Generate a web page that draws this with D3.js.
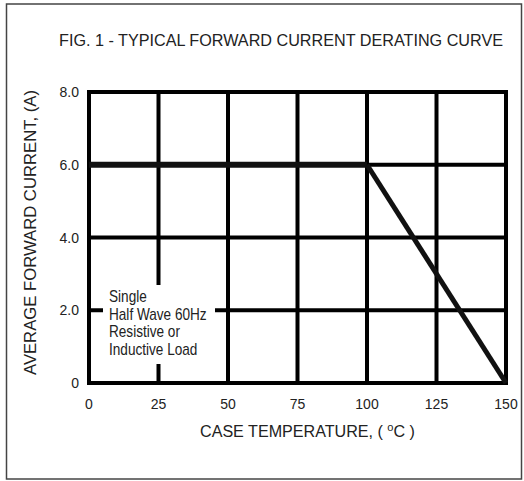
<!DOCTYPE html>
<html>
<head>
<meta charset="utf-8">
<script src="https://cdn.jsdelivr.net/npm/d3@7"></script>
<style>
  html, body { margin: 0; padding: 0; background: #fff; }
  svg { display: block; }
  text { font-family: "Liberation Sans", Arial, sans-serif; fill: #222; }
</style>
</head>
<body>
<div id="chart"></div>
<script>
// data
const xTicks = [0, 25, 50, 75, 100, 125, 150];
const yTicks = [0, 2, 4, 6, 8];
const yTickLabels = ['0', '2.0', '4.0', '6.0', '8.0'];
const curveTemp = [0, 100, 150];
const curveCurrent = [6, 6, 0];
const noteLines = ['Single', 'Half Wave 60Hz', 'Resistive or', 'Inductive Load'];

const W = 524, H = 481;
const svg = d3.select('#chart').append('svg')
    .attr('width', W)
    .attr('height', H);

// outer frame
svg.append('rect')
    .attr('x', 6.5).attr('y', 4)
    .attr('width', 515).attr('height', 475)
    .attr('fill', 'none')
    .attr('stroke', '#444')
    .attr('stroke-width', 1.5);

const x = d3.scaleLinear().domain([0, 150]).range([89, 506]);
const y = d3.scaleLinear().domain([0, 8]).range([383, 92]);

// title
svg.append('text')
    .attr('x', 59).attr('y', 46)
    .attr('textLength', 444)
    .attr('lengthAdjust', 'spacingAndGlyphs')
    .style('font-size', '16px')
    .text('FIG. 1 - TYPICAL FORWARD CURRENT DERATING CURVE');

// grid
const grid = svg.append('g');
grid.selectAll('.vline')
    .data(xTicks)
    .enter().append('line')
    .attr('x1', d => x(d)).attr('x2', d => x(d))
    .attr('y1', y(8) - 2).attr('y2', y(0) + 2)
    .attr('stroke', '#000').attr('stroke-width', 4);
grid.selectAll('.hline')
    .data(yTicks)
    .enter().append('line')
    .attr('y1', d => y(d)).attr('y2', d => y(d))
    .attr('x1', x(0) - 2).attr('x2', x(150) + 2)
    .attr('stroke', '#000').attr('stroke-width', 4);

// tick labels
svg.append('g').selectAll('text')
    .data(yTicks)
    .enter().append('text')
    .attr('x', 79)
    .attr('y', d => y(d) + 5)
    .attr('text-anchor', 'end')
    .style('font-size', '14px')
    .text((d, i) => yTickLabels[i]);

svg.append('g').selectAll('text')
    .data(xTicks)
    .enter().append('text')
    .attr('x', d => x(d))
    .attr('y', 409)
    .attr('text-anchor', 'middle')
    .style('font-size', '14px')
    .text(d => d);

// axis titles
const xt = svg.append('text')
    .attr('x', 200).attr('y', 437)
    .attr('textLength', 215)
    .attr('lengthAdjust', 'spacingAndGlyphs')
    .style('font-size', '16px');
xt.append('tspan').text('CASE TEMPERATURE, ( ');
xt.append('tspan').attr('dy', -6).style('font-size', '11px').text('o');
xt.append('tspan').attr('dy', 6).text('C )');

svg.append('text')
    .attr('transform', 'translate(36,375) rotate(-90)')
    .attr('textLength', 285)
    .attr('lengthAdjust', 'spacingAndGlyphs')
    .style('font-size', '16px')
    .text('AVERAGE FORWARD CURRENT, (A)');

// derating curve
const pts = curveTemp.map((t, i) => [t, curveCurrent[i]]);
svg.append('path')
    .datum(pts.slice(0, 2))
    .attr('d', d3.line().x(d => x(d[0])).y(d => y(d[1])))
    .attr('fill', 'none')
    .attr('stroke', '#111')
    .attr('stroke-width', 6);
svg.append('path')
    .datum(pts.slice(1))
    .attr('d', d3.line().x(d => x(d[0])).y(d => y(d[1])))
    .attr('fill', 'none')
    .attr('stroke', '#111')
    .attr('stroke-width', 5);

// note box
svg.append('rect')
    .attr('x', 103).attr('y', 285)
    .attr('width', 112).attr('height', 79)
    .attr('fill', '#fff');

const note = svg.append('g')
    .attr('transform', 'translate(109,0) scale(0.85,1)');
note.selectAll('text')
    .data(noteLines)
    .enter().append('text')
    .attr('x', 0)
    .attr('y', (d, i) => 302 + i * 17.7)
    .style('font-size', '16px')
    .text(d => d);
</script>
</body>
</html>
